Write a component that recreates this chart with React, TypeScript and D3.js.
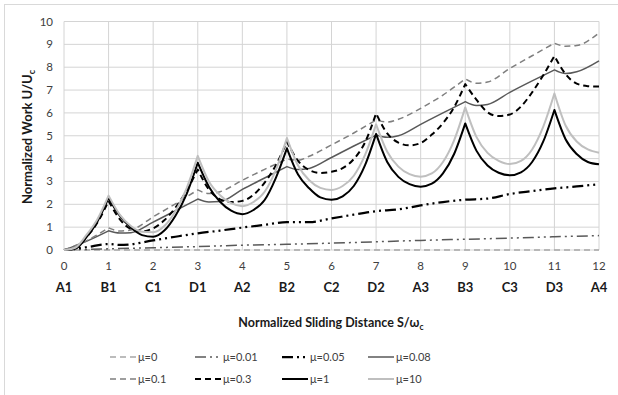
import React from 'react';
import * as d3 from 'd3';

// ---------- data ----------
const X_TICKS = [0, 1, 2, 3, 4, 5, 6, 7, 8, 9, 10, 11, 12];
const X_CATS = ['A1', 'B1', 'C1', 'D1', 'A2', 'B2', 'C2', 'D2', 'A3', 'B3', 'C3', 'D3', 'A4'];
const Y_TICKS = [0, 1, 2, 3, 4, 5, 6, 7, 8, 9, 10];
const CUSPS = [1, 3, 5, 7, 9, 11];

const X_INT = [0, 1, 2, 3, 4, 5, 6, 7, 8, 9, 10, 11, 12];
const X_Q = [0, 0.25, 0.5, 0.75, 1, 1.25, 1.5, 1.75, 2, 2.25, 2.5, 2.75, 3, 3.25, 3.5, 3.75, 4,
  4.25, 4.5, 4.75, 5, 5.25, 5.5, 5.75, 6, 6.25, 6.5, 6.75, 7, 7.25, 7.5, 7.75, 8,
  8.25, 8.5, 8.75, 9, 9.25, 9.5, 9.75, 10, 10.25, 10.5, 10.75, 11, 11.25, 11.5, 11.75, 12];
const X_005 = [0, 0.5, 1, 1.25, 1.5, 2, 2.5, 3, 3.5, 4, 4.5, 5, 5.5, 6, 6.5, 7, 7.5, 8, 8.5, 9, 9.5, 10, 10.5, 11, 11.5, 12];
const X_LIN = [0, 0.5, 1, 1.25, 1.5, 2, 2.5, 3, 3.25, 3.5, 4, 4.5, 5, 5.25, 5.5, 6, 6.5, 7, 7.25, 7.5,
  8, 8.5, 9, 9.25, 9.5, 10, 10.5, 11, 11.25, 11.5, 12];

const MU0 = [0, 0, 0, 0, 0, 0, 0, 0, 0, 0, 0, 0, 0];
const MU001 = [0, 0.05, 0.1, 0.15, 0.21, 0.25, 0.3, 0.36, 0.42, 0.47, 0.52, 0.58, 0.63];
const MU005 = [0, 0.12, 0.26, 0.22, 0.25, 0.42, 0.58, 0.73, 0.85, 0.98, 1.1, 1.22, 1.22, 1.38, 1.55, 1.7,
  1.78, 1.95, 2.1, 2.2, 2.25, 2.45, 2.58, 2.7, 2.78, 2.88];
const MU008 = [0, 0.38, 0.84, 0.74, 0.76, 1.22, 1.72, 2.23, 2.1, 2.12, 2.65, 3.15, 3.65, 3.52, 3.57,
  4.05, 4.55, 5.03, 4.93, 5.0, 5.5, 6.0, 6.49, 6.32, 6.37, 6.9, 7.4, 7.88, 7.72, 7.8, 8.28];
const MU01 = [0, 0.4, 0.97, 0.83, 0.88, 1.45, 2.02, 2.63, 2.47, 2.55, 3.05, 3.53, 3.98, 3.93, 4.1,
  4.6, 5.12, 5.69, 5.6, 5.72, 6.2, 6.78, 7.49, 7.3, 7.35, 7.95, 8.5, 9.05, 8.92, 8.95, 9.5];
const MU03 = [0, 0.08, 0.55, 1.2, 2.15, 1.35, 0.92, 0.82, 0.95, 1.3, 1.85, 2.6, 3.52, 2.65, 2.22, 2.1, 2.15,
  2.42, 2.95, 3.7, 4.74, 3.9, 3.5, 3.37, 3.42, 3.58, 3.98, 4.7, 5.98, 5.1, 4.7, 4.58, 4.68,
  5.05, 5.55, 6.25, 7.26, 6.58, 6.03, 5.86, 5.93, 6.28, 6.9, 7.65, 8.49, 7.7, 7.28, 7.17, 7.15];
const MU1 = [0, 0.05, 0.55, 1.25, 2.28, 1.5, 0.98, 0.65, 0.58, 0.85, 1.5, 2.45, 3.82, 2.77, 2.11, 1.72, 1.57,
  1.75, 2.19, 3.15, 4.45, 3.3, 2.7, 2.3, 2.2, 2.35, 2.8, 3.7, 5.08, 3.85, 3.2, 2.88, 2.77,
  2.9, 3.35, 4.2, 5.54, 4.35, 3.7, 3.38, 3.27, 3.4, 3.85, 4.75, 6.13, 4.85, 4.2, 3.85, 3.75];
const MU10 = [0, 0.1, 0.65, 1.35, 2.38, 1.55, 1.05, 0.8, 0.78, 1.05, 1.7, 2.7, 4.12, 3.0, 2.4, 2.05, 1.92,
  2.1, 2.55, 3.5, 4.9, 3.7, 3.05, 2.72, 2.63, 2.8, 3.25, 4.15, 5.5, 4.3, 3.65, 3.32, 3.21,
  3.35, 3.85, 4.8, 6.24, 4.95, 4.25, 3.9, 3.76, 3.9, 4.4, 5.4, 6.85, 5.45, 4.75, 4.4, 4.26];

type S = { name: string; xs: number[]; ys: number[]; split: boolean; color: string; width: number; dash: string };
const SERIES: S[] = [
  { name: 'μ=0', xs: X_INT, ys: MU0, split: false, color: '#a6a6a6', width: 1.5, dash: '6,4' },
  { name: 'μ=0.01', xs: X_INT, ys: MU001, split: false, color: '#595959', width: 1.5, dash: '11,4,2,4,2,4' },
  { name: 'μ=0.05', xs: X_005, ys: MU005, split: false, color: '#000000', width: 2.25, dash: '11,4,2,4,2,4' },
  { name: 'μ=0.08', xs: X_LIN, ys: MU008, split: true, color: '#595959', width: 1.5, dash: '' },
  { name: 'μ=0.1', xs: X_LIN, ys: MU01, split: true, color: '#7f7f7f', width: 1.5, dash: '6,4' },
  { name: 'μ=0.3', xs: X_Q, ys: MU03, split: true, color: '#000000', width: 2, dash: '6,4' },
  { name: 'μ=1', xs: X_Q, ys: MU1, split: true, color: '#000000', width: 2, dash: '' },
  { name: 'μ=10', xs: X_Q, ys: MU10, split: true, color: '#bfbfbf', width: 2, dash: '' },
];

// ---------- layout ----------
const W = 618, H = 395;
const PL = 64, PR = 599, PT = 21.5, PB = 250;
const FONT = "Lato, 'Open Sans', sans-serif";

const xS = d3.scaleLinear().domain([0, 12]).range([PL, PR]);
const yS = d3.scaleLinear().domain([0, 10]).range([PB, PT]);

function buildPath(xs: number[], ys: number[], split: boolean): string {
  const pts: [number, number][] = xs.map((x, i) => [x, ys[i]]);
  const line = d3.line<[number, number]>().x(d => xS(d[0])).y(d => yS(d[1])).curve(d3.curveMonotoneX);
  if (!split) return line(pts) || '';
  const segs: [number, number][][] = [];
  let cur: [number, number][] = [];
  pts.forEach(p => {
    cur.push(p);
    if (CUSPS.includes(p[0]) && cur.length > 1) { segs.push(cur); cur = [p]; }
  });
  if (cur.length > 1) segs.push(cur);
  return segs.map((s, i) => { const d = line(s) || ''; return i === 0 ? d : 'L' + d.slice(1); }).join('');
}

const LEG_COLS = [110, 195, 282, 368];
const LEG_ROWS = [357, 379];

export default function App() {
  return (
    <svg width={W} height={H} style={{ position: 'absolute', left: 0, top: 0, background: '#fff' }} fontFamily={FONT}>
      <rect x={4.5} y={4.5} width={700} height={500} fill="#fff" stroke="#d9d9d9" />
      {/* grid */}
      {Y_TICKS.map(v => (
        <line key={'gy' + v} x1={PL} x2={PR} y1={yS(v)} y2={yS(v)} stroke="#d4d4d4" strokeWidth={1} />
      ))}
      {X_TICKS.map(v => (
        <line key={'gx' + v} x1={xS(v)} x2={xS(v)} y1={PT} y2={PB} stroke="#d4d4d4" strokeWidth={1} />
      ))}
      {/* series */}
      {SERIES.map(s => (
        <path key={s.name} d={buildPath(s.xs, s.ys, s.split)} fill="none" stroke={s.color}
          strokeWidth={s.width} strokeDasharray={s.dash || undefined} strokeLinejoin="round" />
      ))}
      {/* y tick labels */}
      {Y_TICKS.map(v => (
        <text key={'ty' + v} x={53} y={yS(v) + 4} textAnchor="end" fontSize={11.5} fill="#404040">{v}</text>
      ))}
      {/* x tick labels */}
      {X_TICKS.map((v, i) => (
        <g key={'tx' + v}>
          <text x={xS(v)} y={270} textAnchor="middle" fontSize={11.5} fill="#404040">{v}</text>
          <text x={xS(v)} y={292} textAnchor="middle" fontSize={13} fontWeight="bold" fill="#1a1a1a">{X_CATS[i]}</text>
        </g>
      ))}
      {/* axis titles */}
      <text x={331} y={327} textAnchor="middle" fontSize={12.5} fontWeight="bold" fill="#1a1a1a">
        Normalized Sliding Distance S/ω<tspan fontSize={8.5} dy={3}>c</tspan>
      </text>
      <text transform="translate(32,137) rotate(-90)" textAnchor="middle" fontSize={13} fontWeight="bold" fill="#1a1a1a">
        Normalized Work U/U<tspan fontSize={9} dy={3}>c</tspan>
      </text>
      {/* legend */}
      {SERIES.map((s, i) => {
        const cx = LEG_COLS[i % 4];
        const cy = LEG_ROWS[Math.floor(i / 4)];
        return (
          <g key={'lg' + s.name}>
            <line x1={cx} x2={cx + 26} y1={cy} y2={cy} stroke={s.color} strokeWidth={s.width}
              strokeDasharray={s.dash || undefined} />
            <text x={cx + 28} y={cy + 4} fontSize={11} fill="#404040">{s.name}</text>
          </g>
        );
      })}
    </svg>
  );
}
